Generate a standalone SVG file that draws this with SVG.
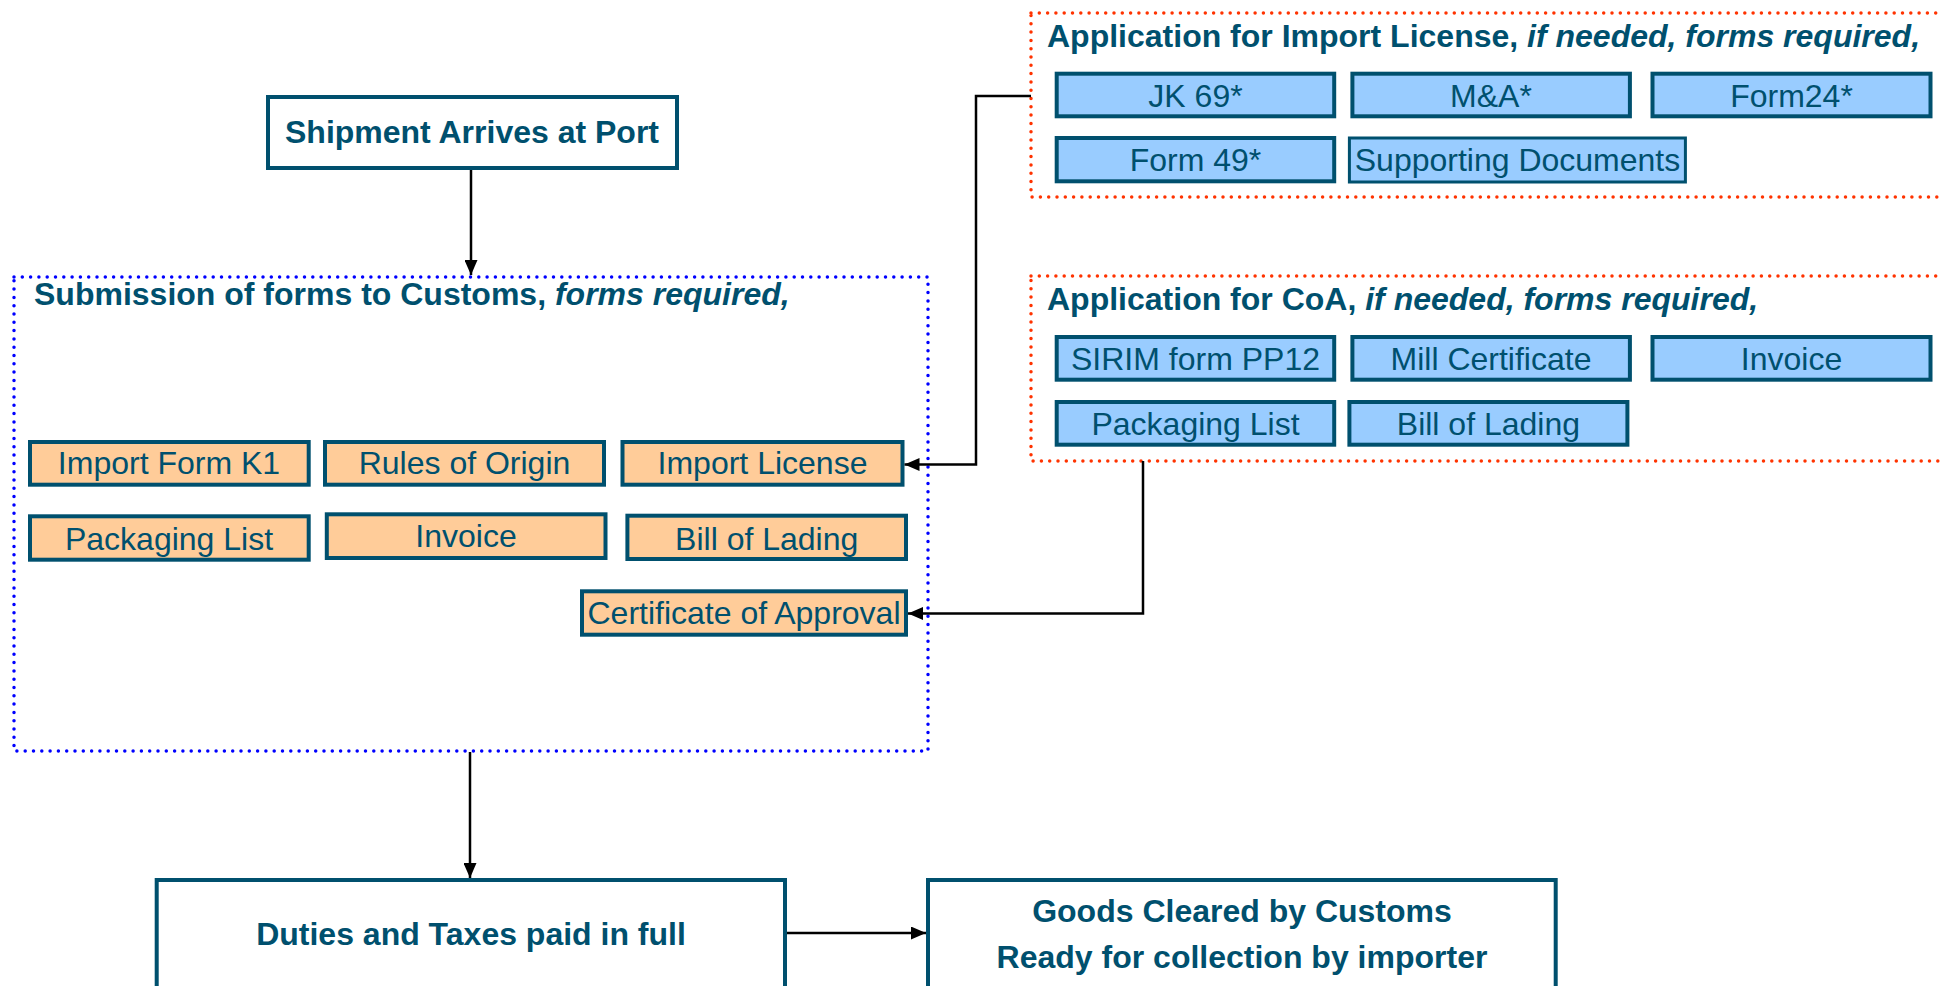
<svg xmlns="http://www.w3.org/2000/svg" width="1941" height="986" viewBox="0 0 1941 986">
<defs>
<style>
.t{font-family:"Liberation Sans",Arial,sans-serif;fill:#00506E;font-size:32px;text-anchor:middle}
.b{font-weight:bold}
.h{font-family:"Liberation Sans",Arial,sans-serif;fill:#00506E;font-size:32px;font-weight:bold}
.box{fill:#FFFFFF;stroke:#00506E;stroke-width:4}
.or{fill:#FFCC99;stroke:#00506E;stroke-width:4}
.bl{fill:#99CCFF;stroke:#00506E;stroke-width:4}
.grpB{fill:none;stroke:#0000FF;stroke-width:3.5;stroke-dasharray:0 8.3;stroke-linecap:round}
.grpR{fill:none;stroke:#FF3300;stroke-width:3.5;stroke-dasharray:0 8.3;stroke-linecap:round}
.con{fill:none;stroke:#000000;stroke-width:2.5}
</style>
<marker id="ah" viewBox="0 0 15 13" refX="15" refY="6.5" markerWidth="15" markerHeight="13" markerUnits="userSpaceOnUse" orient="auto">
<path d="M0,0 L15,6.5 L0,13 z" fill="#000000"/>
</marker>
</defs>
<rect width="1941" height="986" fill="#FFFFFF"/>

<g id="shipment">
<rect class="box" x="268" y="97" width="409" height="71"/>
<text class="t b" x="472" y="143">Shipment Arrives at Port</text>
</g>

<g id="submission">
<rect class="grpB" x="14" y="277" width="914" height="474"/>
<text class="h" x="34" y="305">Submission of forms to Customs, <tspan font-style="italic">forms required,</tspan></text>
</g>

<g id="importFormK1"><rect class="or" x="30" y="442" width="278.7" height="42.7"/><text class="t" x="169" y="474">Import Form K1</text></g>
<g id="rulesOfOrigin"><rect class="or" x="325" y="442" width="279" height="42.7"/><text class="t" x="464.5" y="474">Rules of Origin</text></g>
<g id="importLicense"><rect class="or" x="622.5" y="442" width="280" height="42.7"/><text class="t" x="762.5" y="474">Import License</text></g>
<g id="packagingList"><rect class="or" x="30" y="516.3" width="278.7" height="43.4"/><text class="t" x="169" y="549.5">Packaging List</text></g>
<g id="invoice"><rect class="or" x="326.8" y="514.3" width="278.7" height="43.7"/><text class="t" x="466" y="547">Invoice</text></g>
<g id="billOfLading"><rect class="or" x="627.4" y="515.7" width="278.6" height="43.3"/><text class="t" x="766.7" y="549.5">Bill of Lading</text></g>
<g id="certificateOfApproval"><rect class="or" x="582" y="591.3" width="324" height="43.4"/><text class="t" x="744" y="624">Certificate of Approval</text></g>

<g id="applicationImportLicense">
<rect class="grpR" x="1031" y="13" width="1000" height="184"/>
<text class="h" x="1047" y="47">Application for Import License, <tspan font-style="italic">if needed, forms required,</tspan></text>
</g>
<g id="jk69"><rect class="bl" x="1056.7" y="73.7" width="277.5" height="42.6"/><text class="t" x="1195.5" y="106.5">JK 69*</text></g>
<g id="ma"><rect class="bl" x="1352.4" y="73.7" width="277.5" height="42.6"/><text class="t" x="1491" y="106.5">M&amp;A*</text></g>
<g id="form24"><rect class="bl" x="1652.5" y="73.7" width="278" height="42.6"/><text class="t" x="1791.5" y="106.5">Form24*</text></g>
<g id="form49"><rect class="bl" x="1056.7" y="138" width="277.5" height="43.3"/><text class="t" x="1195.5" y="171">Form 49*</text></g>
<g id="supportingDocuments"><rect class="bl" x="1349.4" y="138" width="336" height="44" style="stroke-width:3"/><text class="t" x="1517.5" y="171">Supporting Documents</text></g>

<g id="applicationCoA">
<rect class="grpR" x="1031" y="276" width="1000" height="185"/>
<text class="h" x="1047" y="310">Application for CoA, <tspan font-style="italic">if needed, forms required,</tspan></text>
</g>
<g id="sirim"><rect class="bl" x="1056.7" y="337" width="277.5" height="42.7"/><text class="t" x="1195.5" y="369.5">SIRIM form PP12</text></g>
<g id="millCertificate"><rect class="bl" x="1352.4" y="337" width="277.5" height="42.7"/><text class="t" x="1491" y="369.5">Mill Certificate</text></g>
<g id="coaInvoice"><rect class="bl" x="1652.5" y="337" width="278" height="42.7"/><text class="t" x="1791.5" y="369.5">Invoice</text></g>
<g id="coaPackagingList"><rect class="bl" x="1056.7" y="402" width="277.5" height="42.7"/><text class="t" x="1195.5" y="435">Packaging List</text></g>
<g id="coaBillOfLading"><rect class="bl" x="1349.4" y="402" width="278" height="42.7"/><text class="t" x="1488.4" y="435">Bill of Lading</text></g>

<g id="duties">
<rect class="box" x="156.7" y="880" width="628.3" height="130"/>
<text class="t b" x="471" y="945">Duties and Taxes paid in full</text>
</g>
<g id="goodsCleared">
<rect class="box" x="928" y="880" width="627.7" height="130"/>
<text class="t b" x="1242" y="921.5">Goods Cleared by Customs</text>
<text class="t b" x="1242" y="968">Ready for collection by importer</text>
</g>

<g id="connectors">
<path class="con" d="M471,170 L471,275" marker-end="url(#ah)"/>
<path class="con" d="M470,752 L470,878" marker-end="url(#ah)"/>
<path class="con" d="M787,933 L926,933" marker-end="url(#ah)"/>
<path class="con" d="M1031,96 L976,96 L976,464.5 L904.5,464.5" marker-end="url(#ah)"/>
<path class="con" d="M1143,461 L1143,613.5 L908,613.5" marker-end="url(#ah)"/>
</g>
</svg>
